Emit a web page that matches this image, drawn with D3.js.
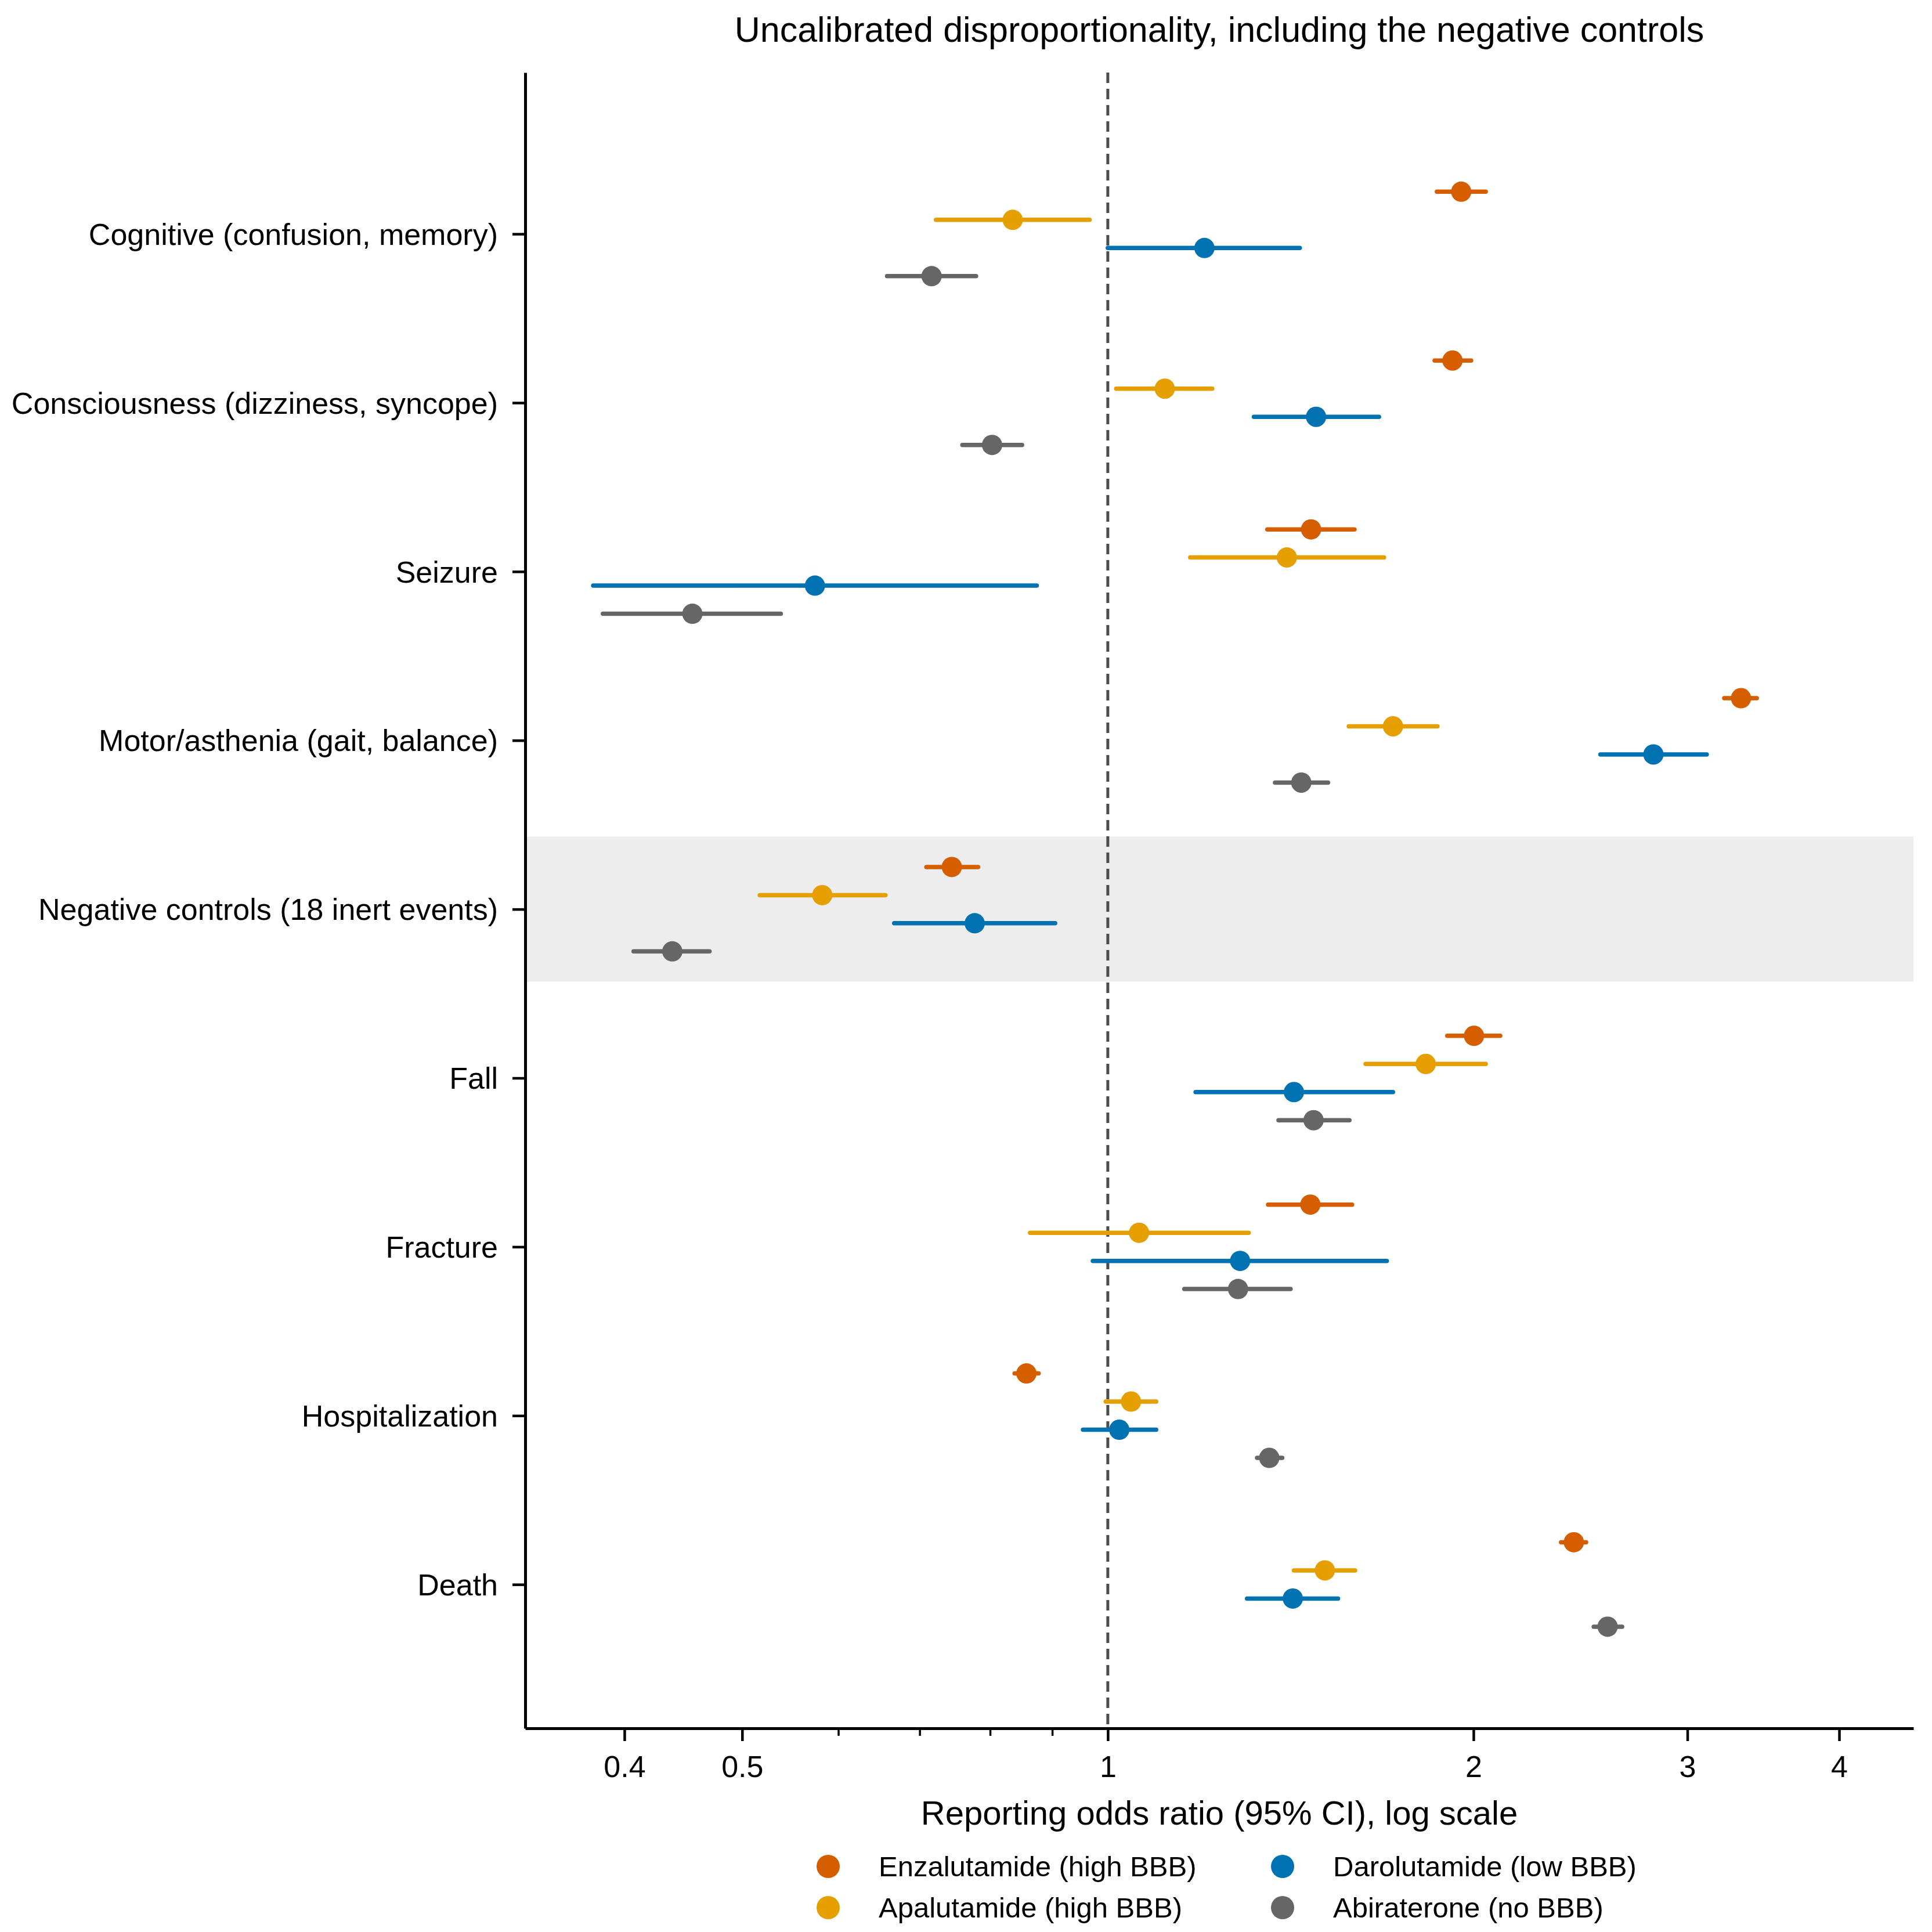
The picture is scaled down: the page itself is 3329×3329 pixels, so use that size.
<!DOCTYPE html>
<html>
<head>
  <meta charset="utf-8">
  <title>Uncalibrated disproportionality</title>
  <script src="https://d3js.org/d3.v7.min.js"></script>
  <style>
    html, body { margin: 0; background: #fff; }
    text { font-family: "Liberation Sans", Arial, Helvetica, sans-serif; fill: #000; }
  </style>
</head>
<body>
<script>
// categories, top to bottom
var categories = [
  "Cognitive (confusion, memory)",
  "Consciousness (dizziness, syncope)",
  "Seizure",
  "Motor/asthenia (gait, balance)",
  "Negative controls (18 inert events)",
  "Fall",
  "Fracture",
  "Hospitalization",
  "Death"
];

var drugs = ["Enzalutamide (high BBB)", "Apalutamide (high BBB)", "Darolutamide (low BBB)", "Abiraterone (no BBB)"];
var colors = ["#D55E00", "#E69F00", "#0072B2", "#666666"];

// reporting odds ratio, lower and upper 95% CI (per category)
var enzRor = [1.954, 1.922, 1.470, 3.321, 0.744, 2.002, 1.468, 0.857, 2.419];
var enzLo  = [1.866, 1.858, 1.353, 3.217, 0.709, 1.903, 1.355, 0.838, 2.361];
var enzHi  = [2.047, 1.991, 1.596, 3.422, 0.782, 2.104, 1.589, 0.877, 2.476];

var apaRor = [0.835, 1.114, 1.404, 1.717, 0.582, 1.827, 1.061, 1.045, 1.509];
var apaLo  = [0.722, 1.016, 1.169, 1.579, 0.517, 1.630, 0.863, 0.996, 1.423];
var apaHi  = [0.966, 1.219, 1.688, 1.868, 0.656, 2.047, 1.306, 1.096, 1.598];

var darRor = [1.201, 1.484, 0.574, 2.813, 0.777, 1.423, 1.285, 1.022, 1.420];
var darLo  = [1.000, 1.319, 0.377, 2.544, 0.667, 1.181, 0.972, 0.954, 1.302];
var darHi  = [1.439, 1.672, 0.874, 3.112, 0.905, 1.717, 1.697, 1.096, 1.547];

var abiRor = [0.716, 0.803, 0.455, 1.443, 0.438, 1.477, 1.280, 1.358, 2.579];
var abiLo  = [0.658, 0.759, 0.384, 1.373, 0.407, 1.382, 1.156, 1.327, 2.512];
var abiHi  = [0.779, 0.850, 0.538, 1.518, 0.470, 1.581, 1.414, 1.392, 2.651];

var xTicks = [0.4, 0.5, 1, 2, 3, 4];
var xMinor = [0.6, 0.7, 0.8, 0.9];
var shadedCategory = "Negative controls (18 inert events)";

var series = [
  { ror: enzRor, lo: enzLo, hi: enzHi },
  { ror: apaRor, lo: apaLo, hi: apaHi },
  { ror: darRor, lo: darLo, hi: darHi },
  { ror: abiRor, lo: abiLo, hi: abiHi }
];
var offsets = [-0.25, -1 / 12, 1 / 12, 0.25];

// note: "top" is reserved on window, so plot edges get their own names
var width = 3329,
    height = 3329,
    plotLeft = 905, plotRight = 3297,
    plotTop = 125, plotBottom = 2978;

var svg = d3.select('body')
  .append('svg')
  .attr('width', width)
  .attr('height', height);

svg.append('rect').attr('width', width).attr('height', height).attr('fill', '#fff');

var x = d3.scaleLog()
  .domain([0.33143, 4.6047])
  .range([plotLeft, plotRight]);

var y = d3.scaleLinear()
  .domain([-0.956, 8.852])
  .range([plotTop, plotBottom]);

// shaded band behind negative controls
var si = categories.indexOf(shadedCategory);
svg.append('rect')
  .attr('x', plotLeft)
  .attr('y', y(si - 0.43))
  .attr('width', plotRight - plotLeft)
  .attr('height', y(si + 0.43) - y(si - 0.43))
  .attr('fill', '#ededed');

// reference line at 1
svg.append('line')
  .attr('x1', x(1)).attr('x2', x(1))
  .attr('y1', plotTop).attr('y2', plotBottom)
  .attr('stroke', '#4d4d4d')
  .attr('stroke-width', 5)
  .attr('stroke-dasharray', '18 10');

// intervals and points
series.forEach(function (s, k) {
  var g = svg.append('g');
  var rows = categories.map(function (c, i) {
    return { i: i, ror: s.ror[i], lo: s.lo[i], hi: s.hi[i] };
  });
  g.selectAll('line')
    .data(rows)
    .enter()
    .append('line')
    .attr('x1', d => x(d.lo))
    .attr('x2', d => x(d.hi))
    .attr('y1', d => y(d.i + offsets[k]))
    .attr('y2', d => y(d.i + offsets[k]))
    .attr('stroke', colors[k])
    .attr('stroke-width', 7.5)
    .attr('stroke-linecap', 'round');
  g.selectAll('circle')
    .data(rows)
    .enter()
    .append('circle')
    .attr('cx', d => x(d.ror))
    .attr('cy', d => y(d.i + offsets[k]))
    .attr('r', 17.5)
    .attr('fill', colors[k]);
});

// axes
var xAxis = svg.append('g')
  .attr('transform', 'translate(0,' + plotBottom + ')')
  .call(d3.axisBottom(x)
    .tickValues(xTicks)
    .tickFormat(d3.format('~g'))
    .tickSize(22)
    .tickSizeOuter(0)
    .tickPadding(25));

svg.append('g')
  .attr('transform', 'translate(0,' + plotBottom + ')')
  .call(d3.axisBottom(x)
    .tickValues(xMinor)
    .tickFormat('')
    .tickSize(13)
    .tickSizeOuter(0))
  .call(g => g.select('.domain').remove())
  .selectAll('line').attr('stroke-width', 3.5);

var yAxis = svg.append('g')
  .attr('transform', 'translate(' + plotLeft + ',0)')
  .call(d3.axisLeft(y)
    .tickValues(d3.range(categories.length))
    .tickFormat(i => categories[i])
    .tickSize(22)
    .tickSizeOuter(0)
    .tickPadding(25));

[xAxis, yAxis].forEach(function (a) {
  a.select('.domain').attr('stroke-width', 5).attr('stroke', '#000');
  a.selectAll('.tick line').attr('stroke-width', 4.5).attr('stroke', '#000');
  a.selectAll('.tick text')
    .attr('font-size', 52)
    .attr('font-family', '"Liberation Sans", Arial, sans-serif')
    .attr('fill', '#000');
});
yAxis.selectAll('.tick text').attr('dy', '0.35em');

// title and x label
svg.append('text')
  .attr('x', (plotLeft + plotRight) / 2)
  .attr('y', 72)
  .attr('text-anchor', 'middle')
  .attr('font-size', 61)
  .text('Uncalibrated disproportionality, including the negative controls');

svg.append('text')
  .attr('x', (plotLeft + plotRight) / 2)
  .attr('y', 3144)
  .attr('text-anchor', 'middle')
  .attr('font-size', 58)
  .text('Reporting odds ratio (95% CI), log scale');

// legend: two columns, filled row by row down each column
var legendCols = [1427, 2210],
    legendRows = [3216, 3287];
var legend = svg.append('g')
  .selectAll('g')
  .data(drugs)
  .enter()
  .append('g')
  .attr('transform', (d, i) => 'translate(' + legendCols[Math.floor(i / 2)] + ',' + legendRows[i % 2] + ')');

legend.append('circle')
  .attr('r', 20)
  .attr('fill', (d, i) => colors[i]);

legend.append('text')
  .attr('x', 87)
  .attr('dy', '0.35em')
  .attr('font-size', 49)
  .text(d => d);
</script>
</body>
</html>
